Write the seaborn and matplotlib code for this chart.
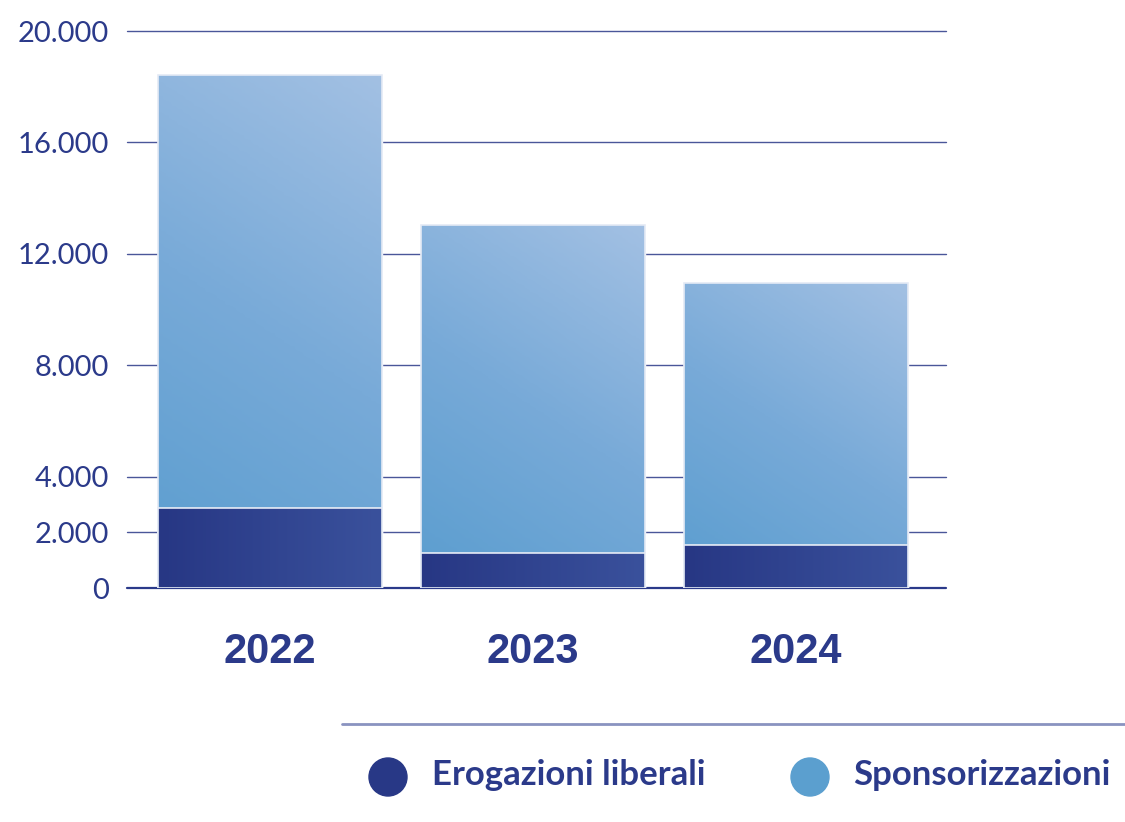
import numpy as np
import matplotlib
matplotlib.use("Agg")
import matplotlib.pyplot as plt
from matplotlib.colors import LinearSegmentedColormap
from matplotlib.patches import Circle
import seaborn as sns

# data
years = ["2022", "2023", "2024"]
erogazioni = [2870, 1260, 1540]
sponsorizzazioni = [15550, 11770, 9410]
totals = [e + s for e, s in zip(erogazioni, sponsorizzazioni)]
yticks = [0, 2000, 4000, 8000, 12000, 16000, 20000]
ytick_labels = ["0", "2.000", "4.000", "8.000", "12.000", "16.000", "20.000"]
legend_labels = ["Erogazioni liberali", "Sponsorizzazioni"]

navy = "#2b3a8a"
dark_blue = "#283886"
light_blue = "#5b9fcf"

sns.set_style("white")
plt.rcParams["font.family"] = ["Lato", "DejaVu Sans"]

fig = plt.figure(figsize=(11.25, 8.22), dpi=100)
ax = fig.add_axes([127 / 1125, 1 - 588 / 822, (946 - 127) / 1125, (588 - 31) / 822])

# stacked bars: totals first, then the lower segment on top
sns.barplot(x=years, y=totals, color=light_blue, width=0.85, ax=ax, zorder=2)
sns.barplot(x=years, y=erogazioni, color=dark_blue, width=0.85, ax=ax, zorder=3)

ax.set_xlim(-0.544, 2.57)
ax.set_ylim(0, 20000)

# diagonal gradient fill for each bar segment (direction computed in pixel space)
light_cmap = LinearSegmentedColormap.from_list("l", ["#5a9dcf", "#78aad8", "#a2c0e3"])
dark_cmap = LinearSegmentedColormap.from_list("d", ["#273784", "#3a519c"])
uu, vv = np.meshgrid(np.linspace(0, 1, 80), np.linspace(0, 1, 80))
n = len(years)
fig.canvas.draw()
for i, p in enumerate(ax.patches[:2 * n]):
    x0, y0 = p.get_x(), p.get_y()
    w, h = p.get_width(), p.get_height()
    (px0, py0), (px1, py1) = ax.transData.transform([(x0, y0), (x0 + w, y0 + h)])
    wp, hp = abs(px1 - px0), abs(py1 - py0)
    if i < n:
        grad = 0.55 * uu * wp + 0.83 * vv * hp
        grad = grad / (0.55 * wp + 0.83 * hp)
        cmap = light_cmap
    else:
        grad = uu
        cmap = dark_cmap
    im = ax.imshow(grad, cmap=cmap, extent=[x0, x0 + w, y0, y0 + h], origin="lower",
                   aspect="auto", zorder=p.get_zorder() + 0.1, vmin=0, vmax=1)
    im.set_clip_path(p)
    ax.add_patch(plt.Rectangle((x0, y0), w, h, fill=False, edgecolor="#e4eaf5",
                               linewidth=1.2, zorder=p.get_zorder() + 0.2))

ax.set_xlim(-0.544, 2.57)
ax.set_ylim(0, 20000)
ax.set_yticks(yticks)
ax.set_yticklabels(ytick_labels, fontsize=21, color=navy)
ax.tick_params(axis="y", length=0, pad=13)
ax.tick_params(axis="x", length=0, pad=32)
for lbl in ax.get_xticklabels():
    lbl.set_fontfamily("Liberation Sans")
    lbl.set_fontweight("bold")
    lbl.set_fontsize(30)
    lbl.set_color(navy)
ax.set_xlabel("")
ax.set_ylabel("")

for t in yticks:
    ax.axhline(t, color="#4a5699" if t else navy, linewidth=1.0 if t else 1.6, zorder=1,
               clip_on=False)
for s in ax.spines.values():
    s.set_visible(False)

# custom legend
lax = fig.add_axes([0, 0, 1, 1], zorder=-1)
lax.set_xlim(0, 1125)
lax.set_ylim(822, 0)
lax.axis("off")
lax.plot([342, 1125], [724, 724], color="#8a93c0", linewidth=2)
for cx, col, tx, lab in zip([388, 810], [dark_blue, light_blue], [432, 853], legend_labels):
    lax.add_patch(Circle((cx, 777), 19, color=col))
    lax.text(tx, 775, lab, fontsize=25, fontweight="bold", color=navy, va="center", ha="left")

fig.savefig("out.png", dpi=100)
